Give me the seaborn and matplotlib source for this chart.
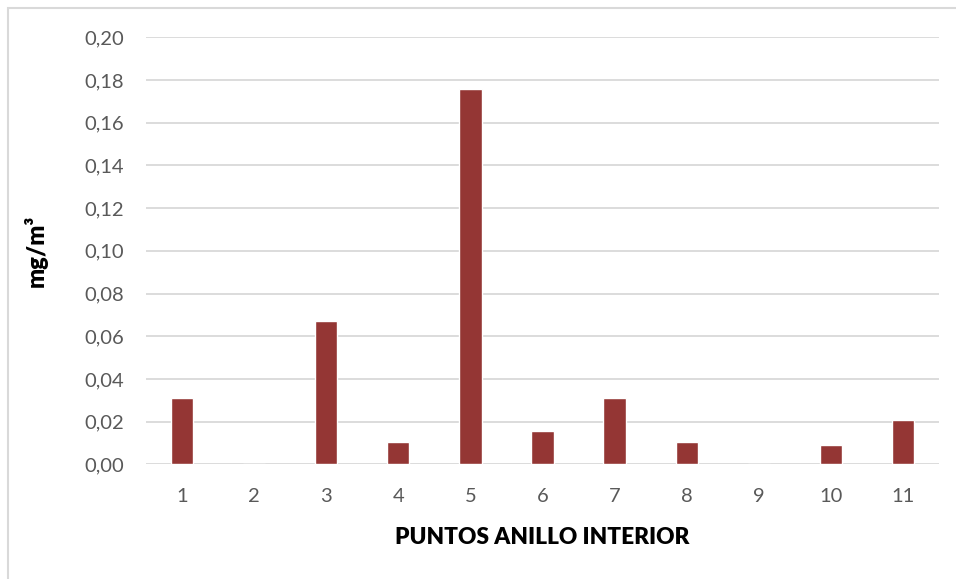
import matplotlib
matplotlib.use("Agg")
import matplotlib.pyplot as plt
import matplotlib.ticker as mticker
from matplotlib.patches import Rectangle
import seaborn as sns
import pandas as pd

# Sampling points along the inner ring and measured concentration (mg/m³)
puntos = ["1", "2", "3", "4", "5", "6", "7", "8", "9", "10", "11"]
concentracion = [0.0312, 0.0, 0.0672, 0.0103, 0.1758, 0.0154, 0.0312, 0.0103, 0.0, 0.0089, 0.0206]
y_ticks = [0.00, 0.02, 0.04, 0.06, 0.08, 0.10, 0.12, 0.14, 0.16, 0.18, 0.20]

df = pd.DataFrame({"punto": puntos, "valor": concentracion})

sns.set_theme(style="white")
plt.rcParams["font.family"] = ["Lato", "DejaVu Sans"]

fig = plt.figure(figsize=(9.56, 5.79), dpi=100)
ax = fig.add_axes([146 / 956, 1 - 464.3 / 579, 793 / 956, 427 / 579])

sns.barplot(data=df, x="punto", y="valor", color="#943634", saturation=1,
            width=0.31, ax=ax, order=puntos, zorder=3)

ax.set_ylim(0, 0.20)
ax.set_xlim(-0.5, len(puntos) - 0.5)
ax.set_yticks(y_ticks)
ax.yaxis.set_major_formatter(mticker.FuncFormatter(lambda v, _: f"{v:.2f}".replace(".", ",")))
ax.grid(axis="y", color="#D9D9D9", linewidth=1.3, zorder=0)
ax.set_axisbelow(True)
for s in ax.spines.values():
    s.set_visible(False)

ax.tick_params(axis="both", length=0, labelsize=14.5, labelcolor="#595959")
ax.tick_params(axis="x", pad=17)
ax.tick_params(axis="y", pad=16)

ax.set_xlabel("PUNTOS ANILLO INTERIOR", fontsize=16.3, fontweight="heavy", color="black")
ax.set_ylabel("mg/m³", fontsize=17, fontweight="heavy", color="black")
ax.xaxis.set_label_coords(0.5, -0.146)
ax.yaxis.set_label_coords(-0.124, 0.5)

# Chart frame (top and left edges visible)
fig.patches.append(Rectangle((8 / 956, -0.05), 1.2, (579 - 8) / 579 + 0.05,
                             transform=fig.transFigure, fill=False,
                             edgecolor="#D9D9D9", linewidth=1.5))

fig.savefig("out.png", dpi=100, facecolor="white")
